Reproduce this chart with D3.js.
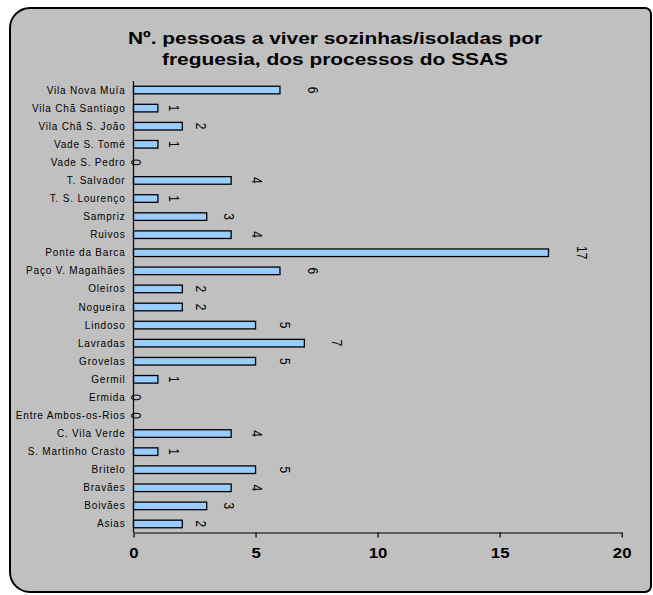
<!DOCTYPE html>
<html>
<head>
<meta charset="utf-8">
<script src="https://cdn.jsdelivr.net/npm/d3@7"></script>
<style>
  html, body { margin: 0; padding: 0; background: #ffffff; }
  svg { display: block; }
</style>
</head>
<body>
<div id="chart"></div>
<script>
const titleLines = ["Nº. pessoas a viver sozinhas/isoladas por", "freguesia, dos processos do SSAS"];
const categories = ["Vila Nova Muía", "Vila Chã Santiago", "Vila Chã S. João", "Vade S. Tomé", "Vade S. Pedro",
  "T. Salvador", "T. S. Lourenço", "Sampriz", "Ruivos", "Ponte da Barca", "Paço V. Magalhães", "Oleiros",
  "Nogueira", "Lindoso", "Lavradas", "Grovelas", "Germil", "Ermida", "Entre Ambos-os-Rios", "C. Vila Verde",
  "S. Martinho Crasto", "Britelo", "Bravães", "Boivães", "Asias"];
const values = [6, 1, 2, 1, 0, 4, 1, 3, 4, 17, 6, 2, 2, 5, 7, 5, 1, 0, 0, 4, 1, 5, 4, 3, 2];
const xTicks = [0, 5, 10, 15, 20];

(function () {
const W = 653, H = 595;
const FONT = "Arial, 'Liberation Sans', sans-serif";
const svg = d3.select("#chart").append("svg").attr("width", W).attr("height", H);

// chart frame
const fx0 = 10, fy0 = 8, fx1 = 651, fy1 = 592, rBig = 20, rSmall = 6;
const framePath = `M ${fx0},${fy0 + rBig} A ${rBig},${rBig} 0 0 1 ${fx0 + rBig},${fy0}
  L ${fx1 - rSmall},${fy0} A ${rSmall},${rSmall} 0 0 1 ${fx1},${fy0 + rSmall}
  L ${fx1},${fy1 - rSmall} A ${rSmall},${rSmall} 0 0 1 ${fx1 - rSmall},${fy1}
  L ${fx0 + rBig},${fy1} A ${rBig},${rBig} 0 0 1 ${fx0},${fy1 - rBig} Z`;
svg.append("path").attr("d", framePath).attr("fill", "#c0c0c0").attr("stroke", "#000").attr("stroke-width", 2);

// title
svg.append("text")
  .attr("transform", "translate(335,44) scale(1.23,1)")
  .attr("text-anchor", "middle")
  .style("font-family", FONT)
  .style("font-weight", "bold").style("font-size", "17px").attr("fill", "#000")
  .selectAll("tspan").data(titleLines).join("tspan")
  .attr("x", 0).attr("dy", (d, i) => i === 0 ? 0 : 21).text(d => d);

const pLeft = 133.5, pRight = 621.7, pTop = 81, pBottom = 533;
const x = d3.scaleLinear().domain([0, 20]).range([pLeft, pRight]);
const y = d3.scaleBand().domain(categories).range([pTop, pBottom]).paddingInner(0.58).paddingOuter(0.29);

// bars
svg.append("g").selectAll("rect").data(categories).join("rect")
  .attr("x", x(0))
  .attr("y", d => y(d))
  .attr("width", (d, i) => x(values[i]) - x(0))
  .attr("height", y.bandwidth())
  .attr("fill", "#99ccff")
  .attr("stroke", "#000")
  .attr("stroke-width", 1.3);

// category labels
svg.append("g").selectAll("text").data(categories).join("text")
  .attr("x", pLeft - 8)
  .attr("y", d => y(d) + y.bandwidth() / 2)
  .attr("text-anchor", "end")
  .attr("dominant-baseline", "central")
  .style("font-family", FONT)
  .style("font-size", "10px")
  .style("letter-spacing", "0.8px")
  .attr("fill", "#000")
  .text(d => d);

// value labels (rotated)
const labelOffset = v => v === 0 ? 2 : 12 + 3.5 * Math.min(v, 6);
svg.append("g").selectAll("text").data(categories).join("text")
  .attr("transform", (d, i) => `translate(${x(values[i]) + labelOffset(values[i])},${y(d) + y.bandwidth() / 2}) scale(1.2,1) rotate(90)`)
  .attr("text-anchor", "middle")
  .attr("dominant-baseline", "central")
  .style("font-family", FONT)
  .style("font-size", "12px")
  .attr("fill", "#000")
  .text((d, i) => values[i]);

// y axis line
svg.append("line").attr("x1", pLeft).attr("x2", pLeft).attr("y1", pTop).attr("y2", pBottom - 0.5)
  .attr("stroke", "#000").attr("stroke-width", 1.2);

// x axis
const xAxis = d3.axisBottom(x).tickValues(xTicks).tickSize(5).tickSizeOuter(0).tickPadding(11).tickFormat(d3.format("d"));
const gx = svg.append("g").attr("transform", `translate(0,${pBottom - 0.5})`).call(xAxis);
gx.select(".domain").attr("stroke", "#000").attr("stroke-width", 1.2);
gx.selectAll(".tick line").attr("stroke", "#000").attr("stroke-width", 1.2);
gx.selectAll(".tick text")
  .attr("transform", "scale(1.2,1)")
  .style("font-family", FONT)
  .style("font-weight", "bold").style("font-size", "14px").attr("fill", "#000");
})();
</script>
</body>
</html>
